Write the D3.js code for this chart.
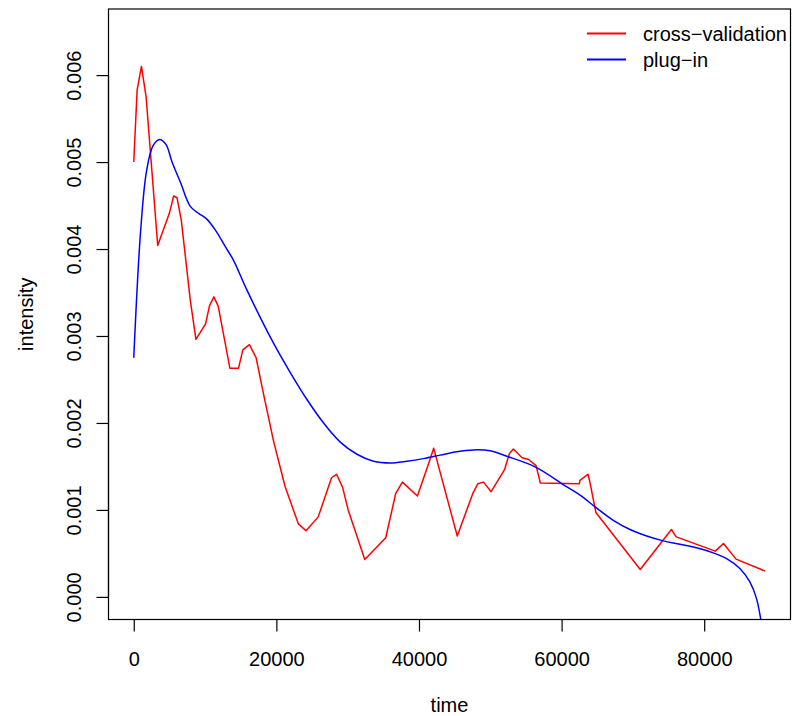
<!DOCTYPE html>
<html>
<head>
<meta charset="utf-8">
<script src="https://cdn.jsdelivr.net/npm/d3@7"></script>
<style>
  body { margin: 0; background: white; }
  text { font-family: "Liberation Sans", Arial, Helvetica, sans-serif; fill: black; }
</style>
</head>
<body>
<div id="chart"></div>
<script>
// cross-validation estimate
var cvTime = [0, 475, 1077, 1730, 3360, 4990, 5600, 6070, 6670, 7930, 8720, 10070, 10630, 11240, 11850,
  13480, 14690, 15300, 16220, 17160, 18180, 19580, 21220, 23080, 24160, 25870, 27740, 28440, 29290,
  30070, 32400, 35340, 36740, 37680, 39780, 41260, 42060, 45370, 47550, 48250, 49050, 50120, 51980,
  52690, 53240, 54460, 55380, 56420, 57020, 62480, 62570, 63700, 63970, 64810, 71030, 75400, 76070,
  81550, 82700, 84470, 88560]
var cvIntensity = [0.0050, 0.00583, 0.0061, 0.00575, 0.00404, 0.00441, 0.00461, 0.00459, 0.00433, 0.00341,
  0.00296, 0.00314, 0.00335, 0.00345, 0.00334, 0.00263, 0.00263, 0.00284, 0.0029, 0.00275, 0.00234,
  0.0018, 0.00127, 0.00084, 0.00076, 0.00092, 0.00137, 0.00141, 0.00126, 0.0010, 0.00043, 0.00068,
  0.00119, 0.00132, 0.00116, 0.00151, 0.00171, 0.0007, 0.00119, 0.0013, 0.00132, 0.00121, 0.00146,
  0.00165, 0.0017, 0.0016, 0.00158, 0.00151, 0.00131, 0.0013, 0.00134, 0.00141, 0.00132, 0.00097,
  0.000315, 0.000775, 0.00069, 0.000526, 0.000614, 0.000434, 0.000296]

// plug-in estimate
var piTime = [0, 940, 1780, 2710, 3640, 4530, 5370, 6530, 7930, 9090, 10170, 11430, 12820, 13990, 15860,
  19580, 21950, 24290, 26620, 28960, 31300, 33630, 35960, 38300, 40630, 42970, 45310, 47640, 49980,
  52220, 56420, 60620, 62590, 64930, 67250, 69590, 71930, 74260, 76590, 78930, 81260, 83140, 85000,
  86400, 87340, 88560]
var piIntensity = [0.00275, 0.00418, 0.00489, 0.00519, 0.00526, 0.0052, 0.005, 0.00477, 0.00449, 0.00441,
  0.00435, 0.00422, 0.00403, 0.00387, 0.00353, 0.00292, 0.00258, 0.00227, 0.0020, 0.00178, 0.00164,
  0.00156, 0.00154, 0.00156, 0.00159, 0.00163, 0.00167, 0.00169, 0.00168, 0.00162, 0.00149, 0.00127,
  0.00117, 0.00102, 0.00088, 0.000775, 0.0007, 0.000644, 0.000606, 0.000564, 0.000506, 0.00044,
  0.000327, 0.000173, -0.00002, -0.0006]

var xTicks = [0, 20000, 40000, 60000, 80000]
var yTicks = [0, 0.001, 0.002, 0.003, 0.004, 0.005, 0.006]
var seriesNames = ['cross\u2212validation', 'plug\u2212in']
var seriesColors = ['#ff0000', '#0000ff']

var width = 792
var height = 716
var plotLeft = 108.5, plotRight = 790.5, plotTop = 9, plotBottom = 619.5

// R style 4% padding
var xlim = [0, 88560]
var ylim = [0, 0.0065]
var xpad = (xlim[1] - xlim[0]) * 0.04
var ypad = (ylim[1] - ylim[0]) * 0.04

var x = d3.scaleLinear().domain([xlim[0] - xpad, xlim[1] + xpad]).range([plotLeft, plotRight])
var y = d3.scaleLinear().domain([ylim[0] - ypad, ylim[1] + ypad]).range([plotBottom, plotTop])

var svg = d3.select('#chart')
  .append('svg')
  .attr('width', width)
  .attr('height', height)
  .attr('viewBox', [0, 0, width, height])

svg.append('rect')
  .attr('width', width)
  .attr('height', height)
  .attr('fill', 'white')

svg.append('defs').append('clipPath')
  .attr('id', 'plotclip')
  .append('rect')
  .attr('x', plotLeft)
  .attr('y', plotTop)
  .attr('width', plotRight - plotLeft)
  .attr('height', plotBottom - plotTop)

var cvData = cvTime.map((t, i) => [t, cvIntensity[i]])
var piData = piTime.map((t, i) => [t, piIntensity[i]])

var lineLinear = d3.line().x(d => x(d[0])).y(d => y(d[1]))
var lineSmooth = d3.line().x(d => x(d[0])).y(d => y(d[1])).curve(d3.curveCatmullRom.alpha(0.5))

var plot = svg.append('g').attr('clip-path', 'url(#plotclip)')

plot.append('path')
  .datum(cvData)
  .attr('d', lineLinear)
  .attr('fill', 'none')
  .attr('stroke', seriesColors[0])
  .attr('stroke-width', 1.5)
  .attr('stroke-linejoin', 'round')

plot.append('path')
  .datum(piData)
  .attr('d', lineSmooth)
  .attr('fill', 'none')
  .attr('stroke', seriesColors[1])
  .attr('stroke-width', 1.5)
  .attr('stroke-linejoin', 'round')

// box
svg.append('rect')
  .attr('x', plotLeft)
  .attr('y', plotTop)
  .attr('width', plotRight - plotLeft)
  .attr('height', plotBottom - plotTop)
  .attr('fill', 'none')
  .attr('stroke', 'black')
  .attr('stroke-width', 1.2)

// x axis
var xAxis = svg.append('g')
  .attr('transform', 'translate(0,' + plotBottom + ')')
  .call(d3.axisBottom(x).tickValues(xTicks).tickFormat(d3.format('d')).tickSize(12).tickPadding(0))
xAxis.select('.domain')
  .attr('d', 'M' + x(xTicks[0]) + ',0H' + x(xTicks[xTicks.length - 1]))
  .attr('stroke-width', 1.2)
xAxis.selectAll('.tick line').attr('stroke-width', 1.2)
xAxis.selectAll('.tick text')
  .attr('y', 46)
  .attr('dy', null)
  .style('font-size', '20px')
  .style('font-family', '"Liberation Sans", Arial, sans-serif')

// y axis
var yAxis = svg.append('g')
  .attr('transform', 'translate(' + plotLeft + ',0)')
  .call(d3.axisLeft(y).tickValues(yTicks).tickFormat(d3.format('.3f')).tickSize(12))
yAxis.select('.domain')
  .attr('d', 'M0,' + y(yTicks[0]) + 'V' + y(yTicks[yTicks.length - 1]))
  .attr('stroke-width', 1.2)
yAxis.selectAll('.tick line').attr('stroke-width', 1.2)
yAxis.selectAll('.tick text')
  .attr('x', null)
  .attr('dy', null)
  .attr('text-anchor', 'middle')
  .attr('transform', 'translate(-28,0) rotate(-90)')
  .style('font-size', '20px')
  .style('font-family', '"Liberation Sans", Arial, sans-serif')

// axis titles
svg.append('text')
  .attr('x', (plotLeft + plotRight) / 2)
  .attr('y', 712)
  .attr('text-anchor', 'middle')
  .style('font-size', '20px')
  .text('time')

svg.append('text')
  .attr('transform', 'translate(33,' + (plotTop + plotBottom) / 2 + ') rotate(-90)')
  .attr('text-anchor', 'middle')
  .style('font-size', '20px')
  .text('intensity')

// legend
var legend = svg.append('g')
seriesNames.forEach((name, i) => {
  var ly = 33.5 + i * 26
  legend.append('line')
    .attr('x1', 587).attr('x2', 626)
    .attr('y1', ly).attr('y2', ly)
    .attr('stroke', seriesColors[i])
    .attr('stroke-width', 2)
  legend.append('text')
    .attr('x', 643)
    .attr('y', ly + 7)
    .style('font-size', '20px')
    .text(name)
})
</script>
</body>
</html>
